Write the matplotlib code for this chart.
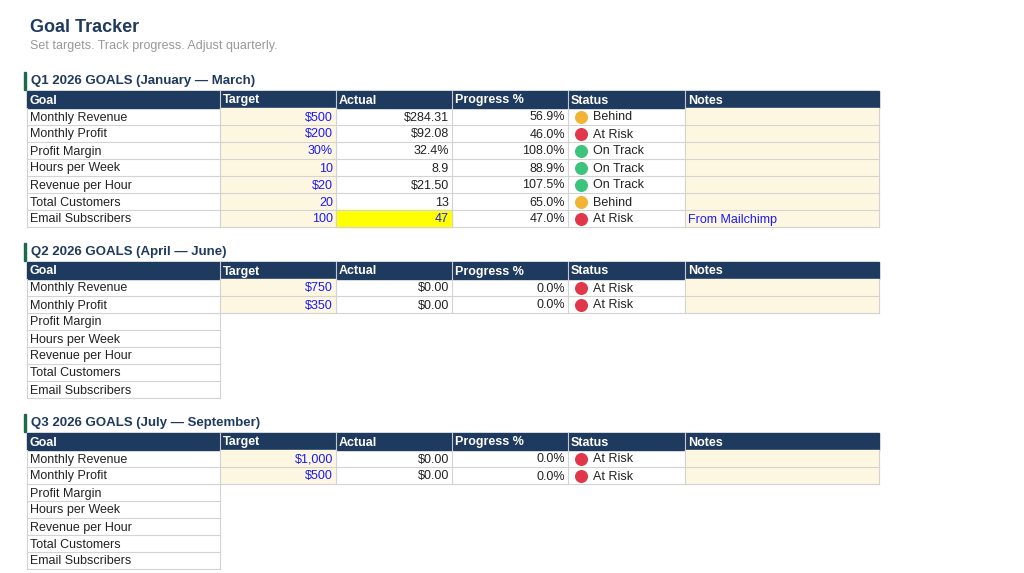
import matplotlib.pyplot as plt
from matplotlib.patches import Rectangle

plt.rcParams['font.family'] = ['Liberation Sans', 'DejaVu Sans']

columns = ["Goal", "Target", "Actual", "Progress %", "Status", "Notes"]
goals = ["Monthly Revenue", "Monthly Profit", "Profit Margin", "Hours per Week",
         "Revenue per Hour", "Total Customers", "Email Subscribers"]

q_titles = ["Q1 2026 GOALS (January \u2014 March)",
            "Q2 2026 GOALS (April \u2014 June)",
            "Q3 2026 GOALS (July \u2014 September)"]

q1_target = ["$500", "$200", "30%", "10", "$20", "20", "100"]
q1_actual = ["$284.31", "$92.08", "32.4%", "8.9", "$21.50", "13", "47"]
q1_progress = ["56.9%", "46.0%", "108.0%", "88.9%", "107.5%", "65.0%", "47.0%"]
q1_status = ["Behind", "At Risk", "On Track", "On Track", "On Track", "Behind", "At Risk"]
q1_notes = ["", "", "", "", "", "", "From Mailchimp"]

q2_target = ["$750", "$350"]
q2_actual = ["$0.00", "$0.00"]
q2_progress = ["0.0%", "0.0%"]
q2_status = ["At Risk", "At Risk"]

q3_target = ["$1,000", "$500"]
q3_actual = ["$0.00", "$0.00"]
q3_progress = ["0.0%", "0.0%"]
q3_status = ["At Risk", "At Risk"]

quarters = [
    (q1_target, q1_actual, q1_progress, q1_status, q1_notes),
    (q2_target, q2_actual, q2_progress, q2_status, ["", ""]),
    (q3_target, q3_actual, q3_progress, q3_status, ["", ""]),
]

status_colors = {"Behind": "#f0b535", "At Risk": "#e0384a", "On Track": "#3cc47c"}
navy = "#1f3a5f"
cream = "#fdf6e1"
grid = "#d3d3d3"
blue = "#1a1aff"

col_x = [27, 220, 336, 452, 568, 685, 879]
row_h = 17
block_top = [91, 262, 433]

fig = plt.figure(figsize=(10.24, 5.73), dpi=100)
ax = fig.add_axes([0, 0, 1, 1])
ax.set_xlim(0, 1024)
ax.set_ylim(573, 0)
ax.axis("off")

ax.text(30, 27, "Goal Tracker", fontsize=13, fontweight="bold", color=navy, va="center")
ax.text(30, 46, "Set targets. Track progress. Adjust quarterly.", fontsize=9, color="#999999", va="center")

for qi, (title, data) in enumerate(zip(q_titles, quarters)):
    top = block_top[qi]
    target, actual, progress, status, notes = data
    ax.add_patch(Rectangle((24, top - 19), 2, 18, color="#1b6b4a"))
    ax.text(31, top - 10, title, fontsize=9.5, fontweight="bold", color=navy, va="center")
    # header
    ax.add_patch(Rectangle((col_x[0], top), col_x[-1] - col_x[0], row_h, color=navy))
    for c, name in enumerate(columns):
        ax.text(col_x[c] + 3, top + row_h / 2 + 1, name, fontsize=9, fontweight="bold",
                color="white", va="center")
        if c > 0:
            ax.plot([col_x[c], col_x[c]], [top, top + row_h], color="#c8c8c8", lw=0.8)
    n = len(target)
    for r, goal in enumerate(goals):
        y0 = top + row_h * (r + 1)
        yc = y0 + row_h / 2 + 1
        right = col_x[-1] if r < n else col_x[1]
        if r < n:
            ax.add_patch(Rectangle((col_x[1], y0), col_x[2] - col_x[1], row_h, color=cream))
            ax.add_patch(Rectangle((col_x[5], y0), col_x[6] - col_x[5], row_h, color=cream))
            if qi == 0 and r == 6:
                ax.add_patch(Rectangle((col_x[2], y0), col_x[3] - col_x[2], row_h, color="#ffff00"))
            ax.text(col_x[2] - 3, yc, target[r], fontsize=9, color=blue, va="center", ha="right")
            act_color = blue if (qi == 0 and r == 6) else "#222222"
            ax.text(col_x[3] - 3, yc, actual[r], fontsize=9, color=act_color, va="center", ha="right")
            ax.text(col_x[4] - 3, yc, progress[r], fontsize=9, color="#222222", va="center", ha="right")
            ax.scatter([col_x[4] + 13], [y0 + row_h / 2], s=70, color=status_colors[status[r]], zorder=3)
            ax.text(col_x[4] + 25, yc, status[r], fontsize=9, color="#222222", va="center")
            ax.text(col_x[5] + 3, yc, notes[r], fontsize=9, color=blue, va="center")
            for c in range(1, 7):
                ax.plot([col_x[c], col_x[c]], [y0, y0 + row_h], color=grid, lw=0.8)
        else:
            ax.plot([col_x[1], col_x[1]], [y0, y0 + row_h], color=grid, lw=0.8)
        ax.plot([col_x[0], col_x[0]], [y0, y0 + row_h], color=grid, lw=0.8)
        ax.plot([col_x[0], right], [y0 + row_h, y0 + row_h], color=grid, lw=0.8)
        ax.text(col_x[0] + 3, yc, goal, fontsize=9, color="#222222", va="center")

fig.savefig("out.png", dpi=100)
